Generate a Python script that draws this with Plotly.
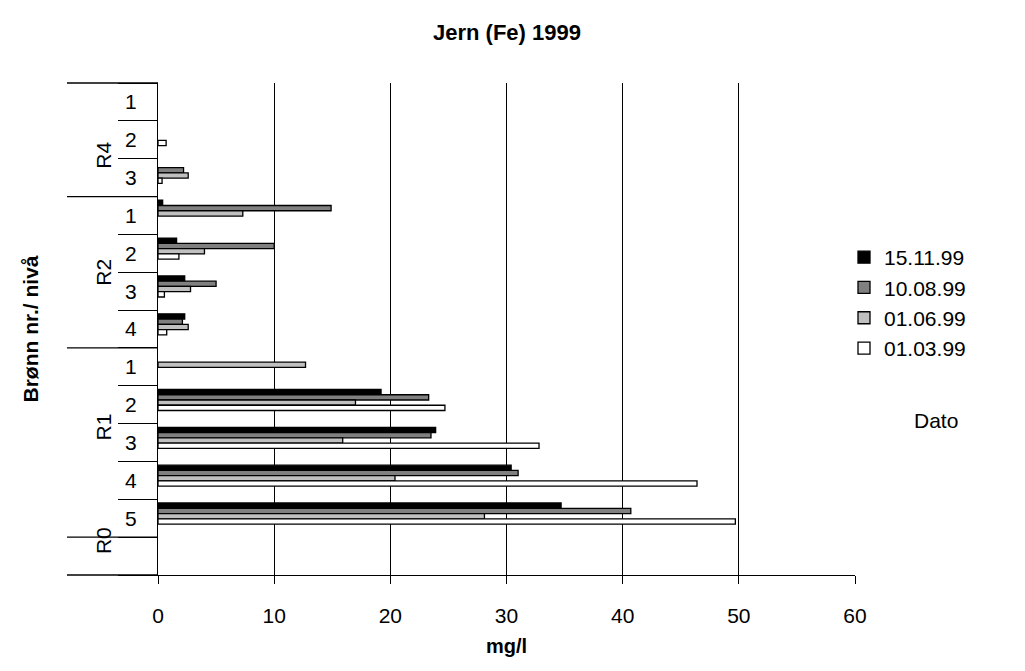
import plotly.graph_objects as go

# Wells (groups) and measuring levels, listed from top to bottom
groups = ["R4", "R2", "R1", "R0"]
levels = [["1", "2", "3"], ["1", "2", "3", "4"], ["1", "2", "3", "4", "5"], [""]]

# Iron concentration (mg/l) per sampling date, one value per well/level (top to bottom)
dates = ["15.11.99", "10.08.99", "01.06.99", "01.03.99"]
fe_151199 = [None, None, None, 0.4, 1.6, 2.3, 2.3, None, 19.2, 23.9, 30.4, 34.7, None]
fe_100899 = [None, None, 2.2, 14.9, 10.0, 5.0, 2.1, None, 23.3, 23.5, 31.0, 40.7, None]
fe_010699 = [None, None, 2.6, 7.3, 4.0, 2.8, 2.6, 12.7, 17.0, 15.9, 20.4, 28.1, None]
fe_010399 = [None, 0.7, 0.35, None, 1.8, 0.55, 0.75, None, 24.7, 32.8, 46.4, 49.7, None]
series = [fe_151199, fe_100899, fe_010699, fe_010399]

x_ticks = [0, 10, 20, 30, 40, 50, 60]

FONT = "Liberation Sans, Arial, sans-serif"
fills = ["#000000", "#808080", "#C0C0C0", "#FFFFFF"]

cat_ids = [f"{g}-{lv}" for g, lvs in zip(groups, levels) for lv in lvs]
cat_text = [lv for lvs in levels for lv in lvs]
n_cat = len(cat_ids)

bar_w = 0.139
first_offset = -0.402

fig = go.Figure()
for i, (name, vals, col) in enumerate(zip(dates, series, fills)):
    fig.add_trace(go.Bar(
        x=vals, y=cat_ids, orientation="h", name=name,
        marker=dict(color=col, line=dict(color="#000000", width=1.3)),
        width=bar_w, offset=first_offset + i * bar_w,
    ))

shapes = []
annotations = []

# long divider lines between wells
bounds = [0]
for lvs in levels:
    bounds.append(bounds[-1] + len(lvs))
for b in bounds:
    yy = 1 - b / n_cat
    shapes.append(dict(type="line", xref="paper", yref="paper",
                       x0=-91 / 697, x1=0, y0=yy, y1=yy,
                       line=dict(color="#000000", width=1.3)))

# rotated well labels
for g, a, b in zip(groups, bounds[:-1], bounds[1:]):
    annotations.append(dict(text=g, xref="paper", yref="paper",
                            x=-68 / 697, y=1 - (a + b) / 2 / n_cat,
                            textangle=-90, showarrow=False,
                            font=dict(family=FONT, size=21, color="#000000")))

annotations.append(dict(text="<b>Brønn nr./ nivå</b>", xref="paper", yref="paper",
                        x=-142 / 697, y=0.5, textangle=-90, showarrow=False,
                        font=dict(family=FONT, size=21, color="#000000")))
annotations.append(dict(text="Dato", xref="paper", yref="paper",
                        x=(960 - 158) / 697, y=1 - (434 - 83) / 492, showarrow=False,
                        font=dict(family=FONT, size=21, color="#000000")))

fig.update_layout(
    width=1025, height=671,
    margin=dict(l=158, r=170, t=83, b=96),
    paper_bgcolor="#FFFFFF", plot_bgcolor="#FFFFFF",
    barmode="overlay",
    showlegend=True,
    title=dict(text="<b>Jern (Fe) 1999</b>", x=507 / 1025, xanchor="center",
               y=1 - 32 / 671, yanchor="middle",
               font=dict(family=FONT, size=22, color="#000000")),
    legend=dict(x=(844 - 158) / 697, xanchor="left", y=1 - (237 - 83) / 492, yanchor="top",
                font=dict(family=FONT, size=21, color="#000000"),
                bgcolor="rgba(0,0,0,0)"),
    xaxis=dict(range=[0, 60], tickvals=x_ticks, showgrid=True, gridcolor="#000000",
               gridwidth=1, zeroline=False, showline=True, linecolor="#000000",
               linewidth=1.3, ticks="outside", ticklen=8, tickcolor="#000000",
               tickwidth=1.3, ticklabelstandoff=14,
               tickfont=dict(family=FONT, size=21, color="#000000"),
               title=dict(text="<b>mg/l</b>", standoff=12,
                          font=dict(family=FONT, size=20, color="#000000"))),
    yaxis=dict(type="category", categoryorder="array", categoryarray=cat_ids,
               autorange="reversed", tickvals=cat_ids, ticktext=cat_text,
               tickson="boundaries", ticks="outside", ticklen=39, tickwidth=1.3,
               tickcolor="#000000", showline=True, linecolor="#000000", linewidth=1.3,
               showgrid=False, ticklabelstandoff=16,
               tickfont=dict(family=FONT, size=21, color="#000000")),
    shapes=shapes, annotations=annotations,
)

fig.write_html("out.html")
